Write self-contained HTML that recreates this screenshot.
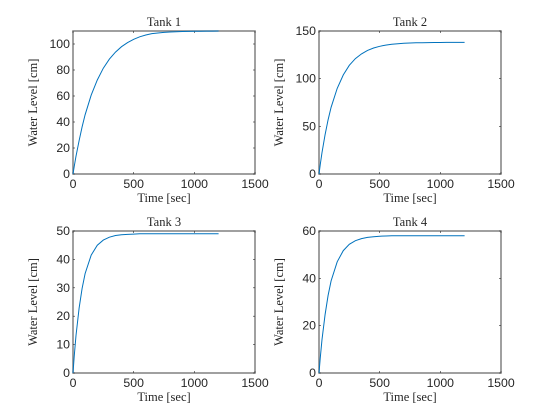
<!DOCTYPE html>
<html><head><meta charset="utf-8"><style>
body{margin:0;background:#fff;}
svg{display:block;}
.tk{font-family:"Liberation Sans",sans-serif;font-size:12.3px;fill:#262626;}
.lb{font-family:"Liberation Serif",serif;font-size:12.5px;fill:#262626;}
</style></head><body>
<svg id="fig" width="560" height="420" viewBox="0 0 560 420"></svg>
<script>
const times=[0,10,25,50,75,100,150,200,250,300,350,400,450,500,550,600,650,700,750,800,850,900,950,1000,1050,1100,1150,1200];
const tank1=[0,5.7,13.7,25.6,36.2,45.5,60.7,72.3,81.4,88.4,93.8,97.9,101.1,103.6,105.5,106.9,108.0,108.5,108.9,109.2,109.4,109.6,109.7,109.8,109.8,109.9,109.9,110];
const tank2=[0,9.5,22.5,41.3,57.0,70.0,89.8,104.0,114.0,121.0,126.0,129.6,132.2,134.0,135.2,136.1,136.7,137.1,137.4,137.6,137.7,137.8,137.9,137.9,138,138,138,138];
const tank3=[0,5.8,13.2,22.8,29.8,35.0,41.5,45.0,46.8,47.8,48.4,48.7,48.8,48.9,49,49,49,49,49,49,49,49,49,49,49,49,49,49];
const tank4=[0,6.1,14.1,24.7,32.8,38.9,47.0,51.7,54.4,55.9,56.8,57.3,57.6,57.8,57.9,58,58,58,58,58,58,58,58,58,58,58,58,58];
const xTicks=[0,500,1000,1500];
const titles=["Tank 1","Tank 2","Tank 3","Tank 4"];
const yMaxs=[110,150,50,60];
const yTicks1=[0,20,40,60,80,100];
const yTicks2=[0,50,100,150];
const yTicks3=[0,10,20,30,40,50];
const yTicks4=[0,20,40,60];
const NS="http://www.w3.org/2000/svg";
const svg=document.getElementById('fig');
function mk(tag,attrs,parent){const e=document.createElementNS(NS,tag);for(const k in attrs)e.setAttribute(k,attrs[k]);(parent||svg).appendChild(e);return e;}
const boxes=[{l:73,r:255,t:31,b:174},{l:319,r:501,t:31,b:174},{l:73,r:255,t:231,b:373},{l:319,r:501,t:231,b:373}];
const series=[tank1,tank2,tank3,tank4];
const ytk=[yTicks1,yTicks2,yTicks3,yTicks4];
for(let i=0;i<4;i++){
  const B=boxes[i],ym=yMaxs[i];
  const g=mk('g',{});
  
  
  const X=v=>B.l+(v-0)/1500*(B.r-B.l);
  const Y=v=>B.b-v/ym*(B.b-B.t);
  const box=mk('rect',{x:B.l,y:B.t,width:B.r-B.l,height:B.b-B.t,fill:'#fff',stroke:'#808080','stroke-width':1.5},g);
  
  
  xTicks.forEach(v=>{
    const x=X(v);
    mk('line',{x1:x,x2:x,y1:B.b,y2:B.b-2,stroke:'#262626','stroke-width':0.6},g);
    mk('line',{x1:x,x2:x,y1:B.t,y2:B.t+2,stroke:'#262626','stroke-width':0.6},g);
    const t=mk('text',{x:x,y:B.b+14,'text-anchor':'middle',class:'tk'},g);t.textContent=v;
    
    
  });
  ytk[i].forEach(v=>{
    const y=Y(v);
    mk('line',{x1:B.l,x2:B.l+2,y1:y,y2:y,stroke:'#262626','stroke-width':0.6},g);
    mk('line',{x1:B.r,x2:B.r-2,y1:y,y2:y,stroke:'#262626','stroke-width':0.6},g);
    const t=mk('text',{x:B.l-3,y:y+4,'text-anchor':'end',class:'tk'},g);t.textContent=v;
    
    
  });
  const d=times.map((tv,k)=>(k?'L':'M')+X(tv).toFixed(1)+','+Y(series[i][k]).toFixed(1)).join(' ');
  const p=mk('path',{d:d,fill:'none',stroke:'#0072BD','stroke-width':1},g);
  
  
  const ti=mk('text',{x:(B.l+B.r)/2,y:B.t-5,'text-anchor':'middle',class:'lb'},g);ti.textContent=titles[i];
  
  
  const xl=mk('text',{x:(B.l+B.r)/2,y:B.b+28,'text-anchor':'middle',class:'lb'},g);xl.textContent='Time [sec]';
  
  
  const cx=B.l-36,cy=(B.t+B.b)/2;
  const yl=mk('text',{x:cx,y:cy,'text-anchor':'middle',class:'lb',transform:`rotate(-90 ${cx} ${cy})`},g);yl.textContent='Water Level [cm]';
  
  
}
</script>
</body></html>
